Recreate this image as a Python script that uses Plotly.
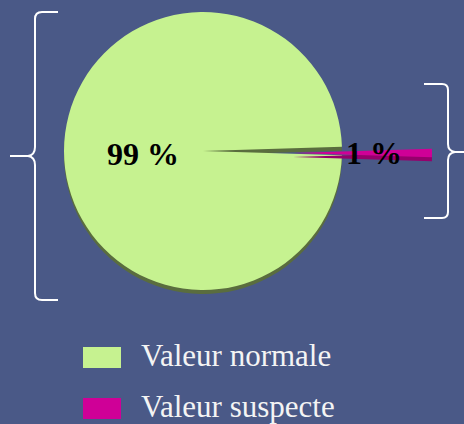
import plotly.graph_objects as go

# ---- data ----
labels = ["Valeur normale", "Valeur suspecte"]
values = [99, 1]
colors = ["#c6f290", "#cf0097"]
shadow_colors = ["#5a6d3e", "#96006c"]

W, H = 464, 424
BG = "#4a5987"
T = "rgba(0,0,0,0)"


def px_x(x):
    return x / W


def px_y(y):
    return 1 - y / H


def dom(cx, cy, r):
    return dict(x=[px_x(cx - r), px_x(cx + r)], y=[px_y(cy + r), px_y(cy - r)])


R = 139
CX, CY = 203, 151
PULL_DX, PULL_DY = 90, 2
rot = 90 + 360 * values[1] / sum(values) / 2

common = dict(labels=labels, values=values, sort=False, direction="clockwise",
              rotation=rot, textinfo="none", hoverinfo="label+percent",
              showlegend=False)

fig = go.Figure()
# rim (3D edge) of the main disc
fig.add_trace(go.Pie(**common, domain=dom(CX, CY + 4, R),
                     marker=dict(colors=[shadow_colors[0], T], line=dict(width=0))))
# main disc
fig.add_trace(go.Pie(**common, domain=dom(CX, CY, R),
                     marker=dict(colors=[colors[0], T], line=dict(width=0))))
# pulled slice rim
fig.add_trace(go.Pie(**common, domain=dom(CX + PULL_DX, CY + PULL_DY + 4, R),
                     marker=dict(colors=[T, shadow_colors[1]], line=dict(width=0))))
# pulled slice
fig.add_trace(go.Pie(**common, domain=dom(CX + PULL_DX, CY + PULL_DY, R),
                     marker=dict(colors=[T, colors[1]], line=dict(width=0))))

label_font = dict(family="Liberation Serif", size=32, color="#000000")
annotations = [
    dict(x=px_x(143), y=px_y(154), xref="paper", yref="paper", showarrow=False,
         text=f"<b>{values[0]} %</b>", font=label_font, xanchor="center", yanchor="middle"),
    dict(x=px_x(374), y=px_y(153), xref="paper", yref="paper", showarrow=False,
         text=f"<b>{values[1]} %</b>", font=label_font, xanchor="center", yanchor="middle"),
]

shapes = []
# braces
left_brace = [(58, 12), "L", (42, 12), "Q", (35, 12), (35, 19), "L", (35, 147), "Q", (35, 155), (28, 156),
              "L", (10, 156), "L", (28, 156), "Q", (35, 157), (35, 165), "L", (35, 293), "Q", (35, 300),
              (42, 300), "L", (58, 300)]
right_brace = [(424, 84), "L", (442, 84), "Q", (448, 84), (448, 90), "L", (448, 144), "Q", (448, 151),
               (455, 152), "L", (466, 152), "L", (455, 152), "Q", (448, 153), (448, 160), "L", (448, 212),
               "Q", (448, 218), (442, 218), "L", (424, 218)]


def make_path(items):
    s = "M"
    for it in items:
        if isinstance(it, str):
            s += " " + it
        else:
            s += f" {px_x(it[0]):.5f},{px_y(it[1]):.5f}"
    return s


for b in (left_brace, right_brace):
    shapes.append(dict(type="path", xref="paper", yref="paper", path=make_path(b),
                       line=dict(color="#ffffff", width=2)))

# legend (swatches + text)
legend_rows = [355, 406]
for lab, col, yc in zip(labels, colors, legend_rows):
    shapes.append(dict(type="rect", xref="paper", yref="paper",
                       x0=px_x(83), x1=px_x(121), y0=px_y(yc - 8), y1=px_y(yc + 13),
                       fillcolor=col, line=dict(width=0)))
    annotations.append(dict(x=px_x(139), y=px_y(yc), xref="paper", yref="paper",
                            showarrow=False, text=lab, xanchor="left", yanchor="middle",
                            font=dict(family="Liberation Serif", size=31, color="#f4f4f4")))

fig.update_layout(width=W, height=H, margin=dict(l=0, r=0, t=0, b=0),
                  paper_bgcolor=BG, plot_bgcolor=BG,
                  shapes=shapes, annotations=annotations, showlegend=False)

fig.write_html("out.html", config={"displayModeBar": False},
               post_script="document.body.style.margin='0';document.body.style.padding='0';"
                           "document.body.style.overflow='hidden';")
